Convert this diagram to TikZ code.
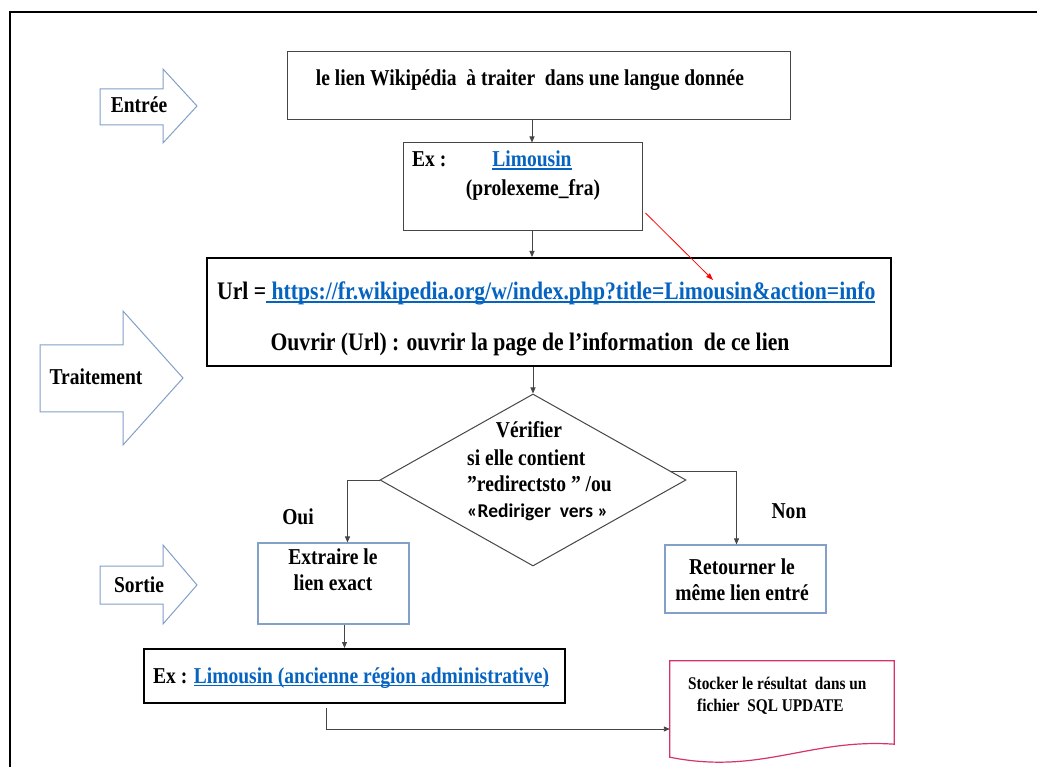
\documentclass[tikz,border=0pt]{standalone}
\usepackage{fontspec}
\setmainfont{Liberation Serif}[FakeStretch=0.86]
\newfontfamily\calibfont{Carlito}
\usetikzlibrary{positioning,calc,shapes.geometric,arrows.meta}

\definecolor{linkblue}{RGB}{5,99,193}
\definecolor{shapeblue}{RGB}{130,160,200}
\definecolor{docpink}{RGB}{214,52,104}
\definecolor{linegray}{RGB}{70,70,70}

\newsavebox{\lnkbox}
\newcommand{\lnk}[1]{\sbox{\lnkbox}{\color{linkblue}#1}\textcolor{linkblue}{\rlap{\usebox{\lnkbox}}\rule[-3pt]{\wd\lnkbox}{1.5pt}}}
\newcommand{\fsz}[1]{\fontsize{#1}{#1}\selectfont}

\tikzset{
  lbl/.style={inner sep=0pt, font=\bfseries\fsz{22.7}},
  big/.style={font=\bfseries\fsz{25.2}},
  small/.style={font=\bfseries\fsz{17.8}},
  plainbox/.style={draw=linegray, line width=1pt, inner sep=0pt},
  boldbox/.style={draw=black, line width=2pt, inner sep=0pt},
  bluebox/.style={draw=shapeblue, line width=1.2pt, inner sep=0pt},
  choice/.style={diamond, draw=linegray, line width=1pt, inner sep=0pt},
  flow/.style={draw=linegray, line width=0.9pt, -{Triangle[length=6pt,width=5pt]}},
  bigarrow/.style={draw=shapeblue, line width=1pt},
}

\begin{document}
\begin{tikzpicture}[x=1pt,y=-1pt]
\useasboundingbox (0,0) rectangle (1037,767);
\fill[white] (0,0) rectangle (1037,767);
% outer frame
\draw[line width=2.5pt] (10,790) -- (10,12) -- (1060,12);

% block arrows
\draw[bigarrow] (100,89) -- (163,89) -- (163,69) -- (197,106) -- (163,143) -- (163,125) -- (100,125) -- cycle;
\draw[bigarrow] (40,345) -- (123,345) -- (123,311) -- (183,378) -- (123,445) -- (123,412) -- (40,412) -- cycle;
\draw[bigarrow] (100,566) -- (163,566) -- (163,545) -- (197,585) -- (163,624) -- (163,604) -- (100,604) -- cycle;
\node[lbl, anchor=base] (entree) at (139,113) {Entrée};
\node[lbl, anchor=base] (traitement) at (96,385) {Traitement};
\node[lbl, anchor=base] (sortie) at (139,592) {Sortie};

% boxes
\node[plainbox, minimum width=503, minimum height=68] (box1) at (538.5,86) {};
\node[plainbox, minimum width=239, minimum height=88] (box2) at (522.5,187) {};
\node[boldbox, minimum width=684, minimum height=108] (box3) at (549,312) {};
\node[choice, minimum width=306, minimum height=172] (dia) at (533,480) {};
\node[bluebox, minimum width=151, minimum height=81] (extr) at (333.5,583.5) {};
\node[bluebox, minimum width=161, minimum height=68] (ret) at (745.5,579) {};
\node[boldbox, minimum width=421, minimum height=54] (exbox) at (354.5,676) {};
\node[inner sep=0pt, minimum width=224, minimum height=96] (doc) at (782,709) {};
\draw[docpink, line width=1.2pt] (doc.south west) -- (doc.north west) -- (doc.north east)
  -- ([yshift=13]doc.south east) .. controls ($(doc.south east)+(-85,-19)$) and ($(doc.south west)+(90,18)$) .. (doc.south west) -- cycle;

% texts
\node[lbl, anchor=base] (t1) at (530,86) {le lien Wikipédia\ \ à traiter\ \ dans une langue donnée};
\node[lbl, anchor=base west] (ex1) at (412,167) {Ex :};
\node[lbl, anchor=base] (lim) at (532,167) {\lnk{Limousin}};
\node[lbl, anchor=base] (prolex) at (533,196) {(prolexeme\_fra)};
\node[lbl, big, anchor=base west] (url) at (217,300) {Url =\lnk{\ https://fr.wikipedia.org/w/index.php?title=Limousin\&action=info}};
\node[lbl, big, anchor=base] (ouvrir) at (530,351) {Ouvrir (Url) : ouvrir la page de l’information\ \ de ce lien};
\node[lbl, anchor=base] (d1) at (529,438) {Vérifier};
\node[lbl, anchor=base west] (d2) at (467,465) {si elle contient};
\node[lbl, anchor=base west] (d3) at (467,491) {\char34 redirectsto \char34\ /ou};
\node[lbl, anchor=base west, font=\calibfont\bfseries\fsz{19.5}] (d4) at (467,517) {«Rediriger\ \ vers »};
\node[lbl, anchor=base] (oui) at (298,524) {Oui};
\node[lbl, anchor=base] (non) at (789,518) {Non};
\node[lbl, anchor=base] (e1) at (333,564) {Extraire le};
\node[lbl, anchor=base] (e2) at (333,590) {lien exact};
\node[lbl, anchor=base] (r1) at (742,574) {Retourner le};
\node[lbl, anchor=base] (r2) at (742,600) {même lien entré};
\node[lbl, anchor=base west] (ex2) at (153,683) {Ex : \lnk{Limousin (ancienne région administrative)}};
\node[lbl, small, anchor=base west] (s1) at (688,689) {Stocker le résultat\ \ dans un};
\node[lbl, small, anchor=base west] (s2) at (697,711) {fichier\ \ SQL UPDATE};
\coordinate (redtip) at (713,280);

% connectors
\draw[flow] (box1.south -| lim) -- (box2.north -| lim);
\draw[flow] (box2.south -| lim) -- (box3.north -| lim);
\draw[red, line width=0.8pt, -{Triangle[length=7pt,width=5pt]}] ([xshift=3,yshift=-26]box2.east) -- (redtip);
\draw[flow] (box3.south -| dia.north) -- (dia.north);
\draw[flow] (dia.west) -| ([xshift=14]extr.north);
\draw[flow] ($(dia.north)!0.9!(dia.east)$) -| ([xshift=-9]ret.north);
\draw[flow] ([xshift=11]extr.south) -- ([xshift=11]extr.south |- exbox.north);
\draw[flow] ([xshift=-28,yshift=-4]exbox.south) |- ([yshift=-20]doc.west);
\end{tikzpicture}
\end{document}
